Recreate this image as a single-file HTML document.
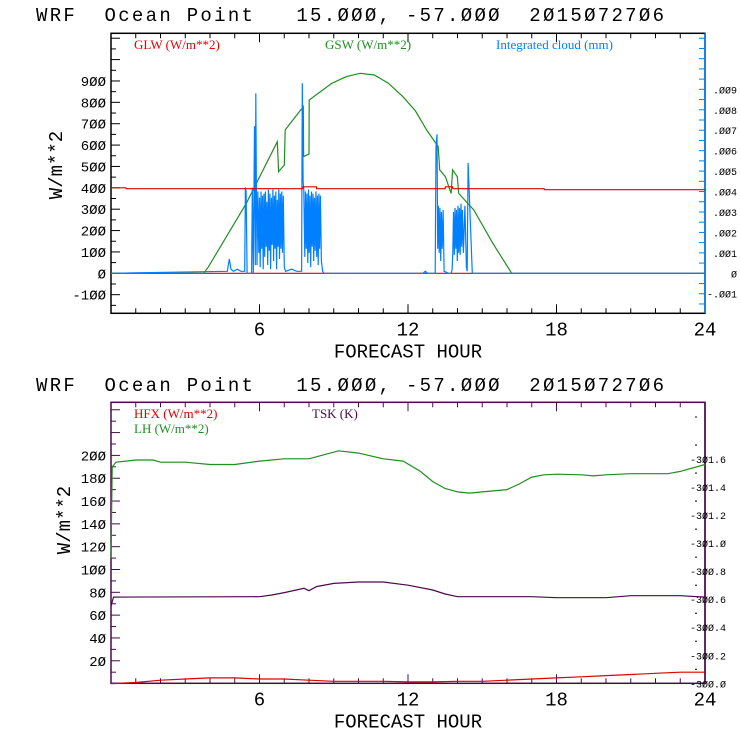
<!DOCTYPE html>
<html><head><meta charset="utf-8"><style>
body{margin:0;background:#fff;width:740px;height:740px;overflow:hidden}
svg{display:block}
.t{font-family:"Liberation Mono",monospace;font-size:19px;fill:#000}
.ti{font-family:"Liberation Mono",monospace;font-size:19px;fill:#000;white-space:pre;letter-spacing:2.3px}
.k{font-family:"Liberation Mono",monospace;font-size:14px;fill:#000}
.r{font-family:"Liberation Mono",monospace;font-size:10px;fill:#000}
.lg{font-family:"Liberation Serif",serif;font-size:13px}
</style></head><body>
<svg id="svg" width="740" height="740" xmlns="http://www.w3.org/2000/svg"></svg>
<script>
const xTicks=[6,12,18,24];
const topLeftTicks=[-100,0,100,200,300,400,500,600,700,800,900];
const topRightTicks=[-0.001,0,0.001,0.002,0.003,0.004,0.005,0.006,0.007,0.008,0.009];
const topRightLabels=["-.001","0",".001",".002",".003",".004",".005",".006",".007",".008",".009"];
const botLeftTicks=[20,40,60,80,100,120,140,160,180,200];
const botRightTicks=[300.0,300.2,300.4,300.6,300.8,301.0,301.2,301.4,301.6];
const botRightLabels=["300.0","300.2","300.4","300.6","300.8","301.0","301.2","301.4","301.6"];

const gswHours=[0,3.75,3.94,5.47,6.72,6.77,7.0,7.04,7.77,7.78,8.0,8.01,8.92,9.5,10.07,10.64,11.2,11.79,12.3,12.75,13.22,13.28,13.51,13.74,13.8,13.99,14.05,14.66,15.43,16.19,24];
const gswVals=[0,0,31,328,616,476,507,671,780,546,558,811,889,920,936,928,890,827,760,671,593,484,452,374,484,452,374,296,140,0,0];
const glwHours=[0,0.6,0.62,7.75,7.76,8.3,8.31,13.5,13.51,13.8,13.81,17.5,17.51,24];
const glwVals=[400,400,396,396,405,405,396,396,405,405,396,396,391,391];
const cloudHours=[0,4.7,4.78,4.85,4.95,5.1,5.25,5.4,5.43,5.46,5.5,5.68,5.71,5.75,5.8,5.83,5.85,5.87,5.9,5.93,5.97,6.0,6.03,6.06,6.09,6.12,6.15,6.18,6.21,6.24,6.27,6.3,6.33,6.36,6.39,6.42,6.45,6.48,6.51,6.54,6.57,6.6,6.63,6.66,6.69,6.72,6.75,6.78,6.81,6.84,6.87,6.9,6.93,6.96,7.0,7.05,7.3,7.5,7.7,7.73,7.76,7.79,7.83,7.86,7.89,7.92,7.95,7.98,8.01,8.04,8.07,8.1,8.13,8.16,8.19,8.22,8.25,8.28,8.31,8.34,8.37,8.4,8.43,8.46,8.5,8.55,8.6,12.6,12.7,12.8,13.1,13.13,13.17,13.2,13.23,13.26,13.29,13.32,13.35,13.38,13.42,13.46,13.65,13.75,13.78,13.81,13.84,13.87,13.9,13.93,13.96,13.99,14.02,14.05,14.08,14.11,14.14,14.17,14.2,14.24,14.3,14.36,14.39,14.43,14.6,24];
const cloudVals=[0,0.0001,0.0007,0.0002,0.0001,0.0002,0.0001,0.0001,0.0042,0.0040,0,0,0.0042,0,0.0072,0.0004,0.0088,0.0047,0.0004,0.0040,0.0010,0.0037,0.0003,0.0040,0.0012,0.0038,0.0002,0.0039,0.0008,0.0040,0.0013,0.0035,0.0004,0.0041,0.0011,0.0039,0.0002,0.0037,0.0014,0.0041,0.0006,0.0038,0.0012,0.0040,0.0002,0.0036,0.0013,0.0041,0.0007,0.0039,0.0012,0.0040,0.0010,0.0038,0.0003,0.0001,0.0002,0.0001,0.0001,0.0093,0.0045,0.0041,0.0008,0.0040,0.0012,0.0039,0.0005,0.0041,0.0010,0.0038,0.0003,0.0040,0.0013,0.0039,0.0006,0.0037,0.0011,0.0040,0.0008,0.0038,0.0004,0.0039,0.0012,0.0038,0.0006,0.0001,0,0,0.0001,0,0,0.0062,0.0068,0.0012,0.0033,0.0010,0.0032,0.0006,0.0030,0.0012,0.0031,0.0001,0,0,0.0002,0.0010,0.0030,0.0009,0.0032,0.0012,0.0031,0.0006,0.0033,0.0010,0.0032,0.0009,0.0034,0.0013,0.0031,0.0010,0.0033,0.0003,0.0001,0.0054,0,0,0];

const lhHours=[0,0.05,0.2,1,1.7,2,3,4,5,6,7,8,8.5,9.2,10,11,11.8,12.5,13,13.5,14,14.5,15,16,16.5,17,17.5,18,19,19.5,20,21,22,22.5,23,24];
const lhVals=[110,190,194,196,196,194,194,192,192,195,197,197,200,204,202,197,195,186,177,171,168,167,168,170,175,181,183,183.5,183,182,183,184,184,184,186,192];
const tskHours=[0,0.1,6,6.5,7,7.8,8,8.3,9,10,11,12,13,13.5,14,17,18,20,21,23,24];
const tskVals=[300.55,300.615,300.618,300.630,300.647,300.678,300.661,300.690,300.713,300.723,300.723,300.700,300.666,300.637,300.618,300.618,300.611,300.611,300.625,300.625,300.615];
const hfxHours=[0,1,2,3,4,5,6,7,8,9,10,11,12,13,14,15,16,17,18,19,20,21,22,23,24];
const hfxVals=[0,1,3,4,5,5,4,4,3,2,2,2,1.5,1.5,2,2,3,4,5,6,7,8,9,10,10];

const NS="http://www.w3.org/2000/svg";
const svg=document.getElementById('svg');
function mk(tag,attrs,parent){const e=document.createElementNS(NS,tag);for(const k in attrs)e.setAttribute(k,attrs[k]);(parent||svg).appendChild(e);return e;}
const X0=111,X1=705;
const xs=h=>X0+(X1-X0)*h/24;

function line(hours,vals,sy,color,name){
  const d=hours.map((h,i)=>(i?'L':'M')+xs(h).toFixed(1)+','+sy(vals[i]).toFixed(1)).join('');
  const p=mk('path',{d:d,fill:'none',stroke:color,'stroke-width':1.2});
  
  
}
function text(x,y,s,cls,anchor,fill,name){
  const t=mk('text',{x:x,y:y,class:cls,'text-anchor':anchor||'start'});
  if(fill)t.setAttribute('fill',fill);
  t.textContent=s;
  
  
  return t;
}
function panel(yTop,yBot,frame,rightColor,name){
  const g=mk('g',{});
  
  
  mk('rect',{x:X0,y:yTop,width:X1-X0,height:yBot-yTop,fill:'none',stroke:frame,'stroke-width':1.5},g);
  mk('line',{x1:X1,y1:yTop,x2:X1,y2:yBot,stroke:rightColor,'stroke-width':1.5},g);
  for(let h=1;h<24;h++){
    const L=h%6===0?9:5;
    mk('line',{x1:xs(h),y1:yBot,x2:xs(h),y2:yBot-L,stroke:frame},g);
    mk('line',{x1:xs(h),y1:yTop,x2:xs(h),y2:yTop+L,stroke:frame},g);
  }
  xTicks.forEach(h=>text(xs(h),yBot+22,String(h).replace(/0/g,'Ø'),'t','middle',null,'x-tick-label'));
  text(408,yBot+44,'FORECAST HOUR','t','middle',null,'x-axis-title');
  return g;
}
text(36,21,'WRF  Ocean Point   15.ØØØ, -57.ØØØ  2Ø15Ø727Ø6','ti','start',null,'top-chart-title');
text(36,391,'WRF  Ocean Point   15.ØØØ, -57.ØØØ  2Ø15Ø727Ø6','ti','start',null,'bottom-chart-title');

// Top panel
const T0=33.3,T1=313.3;
const syT=v=>273.3-v*21.37/100;
const syTR=v=>273.3-v*20.44/0.001;
panel(T0,T1,'#000','#0080ff','top-panel');
for(let v=-150;v<=1100;v+=50){const y=syT(v);if(y>T0+2&&y<T1-2)mk('line',{x1:X0,y1:y,x2:X0+(v%100===0?9:5),y2:y,stroke:'#000'});}
topLeftTicks.forEach(v=>text(X0-5,syT(v)+5,String(v).replace(/0/g,'Ø'),'k','end',null,'top-y-tick-label'));
for(let v=-0.0015;v<=0.012;v+=0.0005){const y=syTR(v);if(y>T0+2&&y<T1-2)mk('line',{x1:X1,y1:y,x2:X1-6,y2:y,stroke:'#0080ff'});}
topRightTicks.forEach((v,i)=>text(737,syTR(v)+4,topRightLabels[i].replace(/0/g,'Ø'),'r','end',null,'top-right-tick-label'));
const yl1=text(0,0,'W/m**2','t','middle',null,'top-y-axis-title');yl1.setAttribute('transform','translate(62,165) rotate(-90)');
line([0,24],[0,0],syT,'#e00000','zero-line');
line(gswHours,gswVals,syT,'#1f8f1f','gsw-line');
line(cloudHours,cloudVals,syTR,'#0080ff','cloud-line');
line(glwHours,glwVals,syT,'#e00000','glw-line');
text(134,49,'GLW (W/m**2)','lg','start','#e00000','legend-glw');
text(325,49,'GSW (W/m**2)','lg','start','#1f8f1f','legend-gsw');
text(496,49,'Integrated cloud (mm)','lg','start','#0080ff','legend-cloud');

// Bottom panel
const B0=402.3,B1=683.3;
const syB=v=>683.6-v*22.82/20;
const syBR=v=>683.3-(v-300)*28.03/0.2;
panel(B0,B1,'#4b0a4b','#4b0a4b','bottom-panel');
for(let v=10;v<=240;v+=10){const y=syB(v);if(y>B0+2&&y<B1-2)mk('line',{x1:X0,y1:y,x2:X0+(v%20===0?9:5),y2:y,stroke:'#4b0a4b'});}
botLeftTicks.forEach(v=>text(X0-5,syB(v)+5,String(v).replace(/0/g,'Ø'),'k','end',null,'bottom-y-tick-label'));
for(let v=300.1;v<=301.9;v+=0.2){const y=syBR(v);if(y>B0+2)mk('line',{x1:695,y1:y,x2:697,y2:y,stroke:'#000'});}
botRightTicks.forEach((v,i)=>text(726,syBR(v)+4,'-'+botRightLabels[i].replace(/0/g,'Ø'),'r','end',null,'bottom-right-tick-label'));
const yl2=text(0,0,'W/m**2','t','middle',null,'bottom-y-axis-title');yl2.setAttribute('transform','translate(70,520) rotate(-90)');
line(lhHours,lhVals,syB,'#1f8f1f','lh-line');
line(tskHours,tskVals,syBR,'#4b0a4b','tsk-line');
line(hfxHours,hfxVals,syB,'#e00000','hfx-line');
text(134,418,'HFX (W/m**2)','lg','start','#e00000','legend-hfx');
text(134,433,'LH  (W/m**2)','lg','start','#1f8f1f','legend-lh');
text(312,418,'TSK (K)','lg','start','#4b0a4b','legend-tsk');
</script>
</body></html>
